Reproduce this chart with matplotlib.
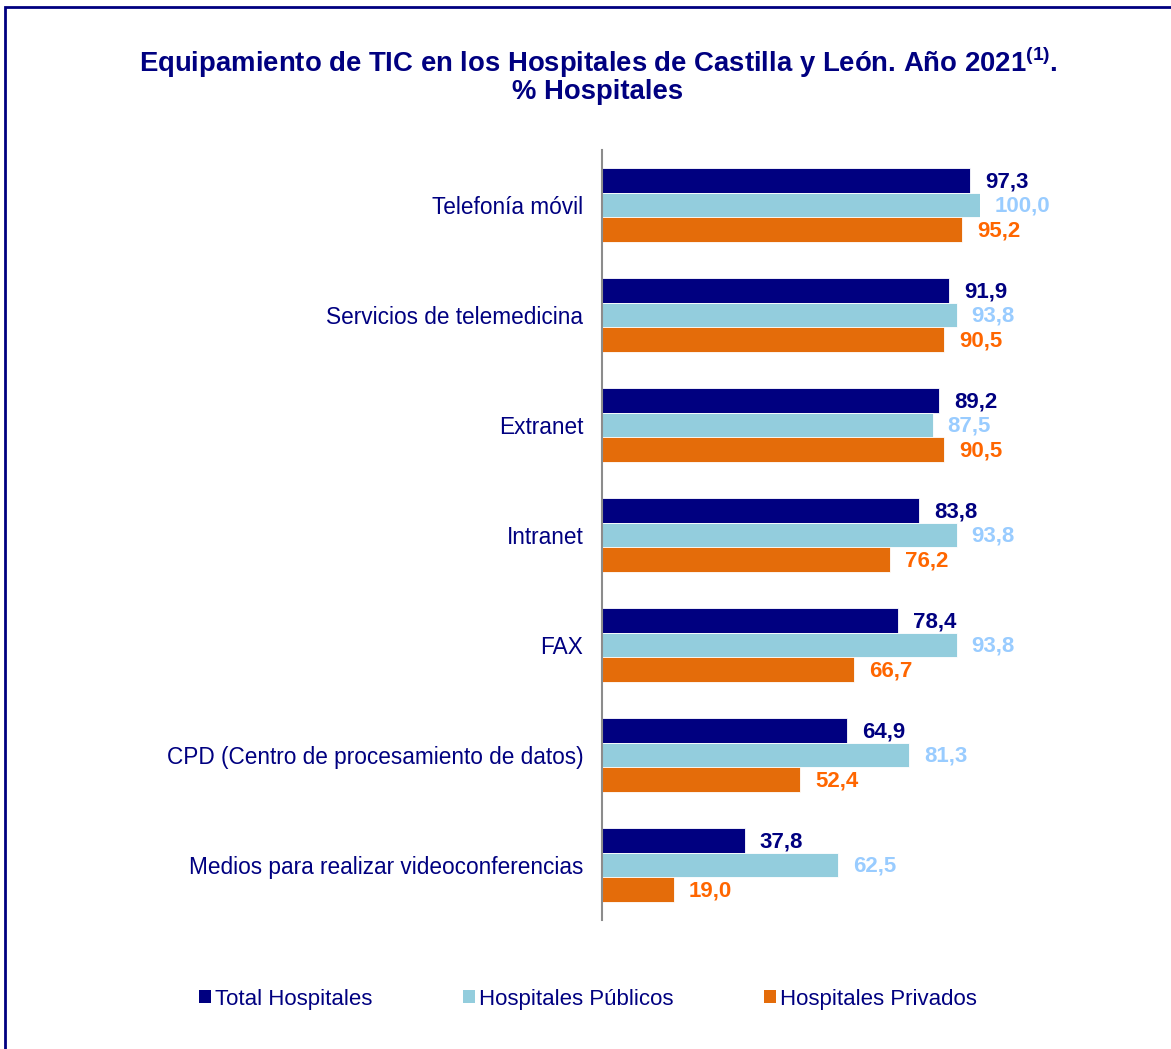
import numpy as np
import matplotlib.pyplot as plt
from matplotlib.patches import Patch, Rectangle

categorias = ['Telefonía móvil', 'Servicios de telemedicina', 'Extranet', 'Intranet', 'FAX',
              'CPD (Centro de procesamiento de datos)', 'Medios para realizar videoconferencias']
total = [97.3, 91.9, 89.2, 83.8, 78.4, 64.9, 37.8]
publicos = [100.0, 93.8, 87.5, 93.8, 93.8, 81.3, 62.5]
privados = [95.2, 90.5, 90.5, 76.2, 66.7, 52.4, 19.0]
series = ['Total Hospitales', 'Hospitales Públicos', 'Hospitales Privados']

navy = '#000080'
bar_cols = ['#000080', '#93CDDD', '#E46C0A']
lab_cols = ['#000080', '#99CCFF', '#FF6600']

plt.rcParams['font.family'] = ['Liberation Sans', 'DejaVu Sans']
plt.rcParams['mathtext.fontset'] = 'custom'
plt.rcParams['mathtext.bf'] = 'Liberation Sans:bold'

W, H = 1171, 1049
fig = plt.figure(figsize=(W / 100, H / 100), dpi=100)
ax = fig.add_axes([602 / W, 1 - 920 / H, 378 / W, 770 / H])

n = len(categorias)
y = np.arange(n)
h = 24.5 / 110
for i, vals in enumerate([total, publicos, privados]):
    pos = y + (i - 1) * h
    ax.barh(pos, vals, height=h, color=bar_cols[i], edgecolor='white', linewidth=0.6)
    for p, v in zip(pos, vals):
        ax.annotate(f'{v:.1f}'.replace('.', ','), (v, p), xytext=(15, -1), textcoords='offset pixels',
                    ha='left', va='center', fontsize=16, fontweight='bold', color=lab_cols[i],
                    annotation_clip=False)

ax.set_xlim(0, 100)
ax.set_ylim(n - 0.5, -0.5)
ax.set_xticks([])
ax.set_yticks(y)
ax.set_yticklabels(categorias, fontsize=16.3, color=navy)
ax.tick_params(axis='y', length=0, pad=13.5)
for s in ['top', 'right', 'bottom']:
    ax.spines[s].set_visible(False)
ax.spines['left'].set_color('#8C8C8C')
ax.spines['left'].set_linewidth(1.5)

fig.text(598 / W, 1 - 62 / H, r'Equipamiento de TIC en los Hospitales de Castilla y León. Año 2021$^{\mathbf{(1)}}$.',
         ha='center', va='center', fontsize=19.8, fontweight='bold', color=navy)
fig.text(598 / W, 1 - 92 / H, '% Hospitales', ha='center', va='center', fontsize=19.8,
         fontweight='bold', color=navy)

handles = [Patch(facecolor=c) for c in bar_cols]
fig.legend(handles, series, loc='center', bbox_to_anchor=(588 / W, 1 - 999 / H), ncol=3,
           frameon=False, fontsize=16, labelcolor=navy, handlelength=0.55, handleheight=0.55,
           handletextpad=0.2, columnspacing=4.05)

fig.patches.append(Rectangle((4.5 / W, -0.1), 1.2, 1 - 6.5 / H + 0.1, transform=fig.transFigure,
                             fill=False, edgecolor=navy, linewidth=2, figure=fig))

plt.savefig('out.png', dpi=100)
